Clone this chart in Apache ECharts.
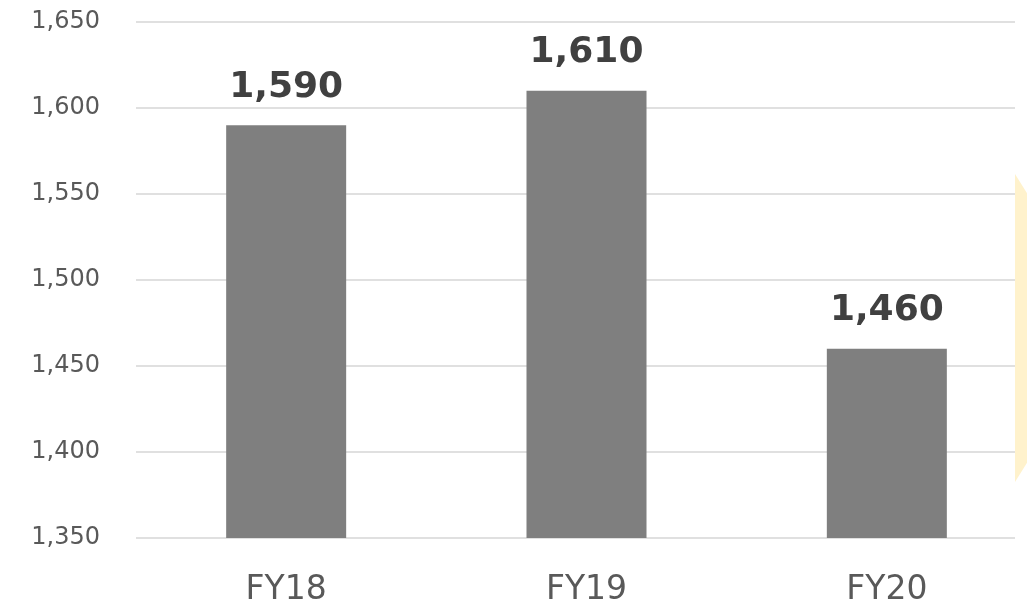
<!DOCTYPE html>
<html>
<head>
<meta charset="utf-8">
<script src="https://cdn.jsdelivr.net/npm/echarts@6/dist/echarts.min.js"></script>
<style>
html, body { margin: 0; padding: 0; background: #fff; }
#chart { width: 1027px; height: 604px; }
</style>
</head>
<body>
<div id="chart"></div>
<script>
var categories = ['FY18', 'FY19', 'FY20'];
var values = [1590, 1610, 1460];
var yMin = 1350, yMax = 1650, yStep = 50;

var chart = echarts.init(document.getElementById('chart'));

// 数値を 1,590 の形に
function fmt(v) {
	return String(v).replace(/\B(?=(\d{3})+(?!\d))/g, ',');
}

var option = {
	animation: false,
	textStyle: { fontFamily: 'DejaVu Sans' },
	grid: { left: 136, top: 22, width: 901, bottom: 66, outerBoundsMode: 'none', containLabel: false },
	xAxis: {
		type: 'category',
		data: categories,
		axisLine: { show: false },
		axisTick: { show: false },
		axisLabel: { color: '#595959', fontSize: 33, margin: 36 }
	},
	yAxis: {
		type: 'value',
		min: yMin,
		max: yMax,
		interval: yStep,
		axisLine: { show: false },
		axisTick: { show: false },
		splitLine: { lineStyle: { color: '#E0E0E0', width: 2 } },
		axisLabel: { color: '#595959', fontSize: 24, margin: 36, formatter: fmt }
	},
	series: [{
		type: 'bar',
		data: values,
		barWidth: 120,
		itemStyle: { color: '#7F7F7F' },
		label: {
			show: true,
			position: 'top',
			distance: 20,
			color: '#404040',
			fontSize: 36,
			fontWeight: 'bold',
			formatter: function (p) { return fmt(p.value); }
		}
	}],
	// 右端の矢印（切れている）
	graphic: [
		{ type: 'rect', shape: { x: 1015, y: 0, width: 20, height: 560 }, style: { fill: '#fff' }, z: 10 },
		{ type: 'polygon', shape: { points: [[1015, 174], [1040, 214], [1040, 442], [1015, 482]] }, style: { fill: '#FFF2CC' }, z: 11 }
	]
};
chart.setOption(option);
</script>
</body>
</html>
